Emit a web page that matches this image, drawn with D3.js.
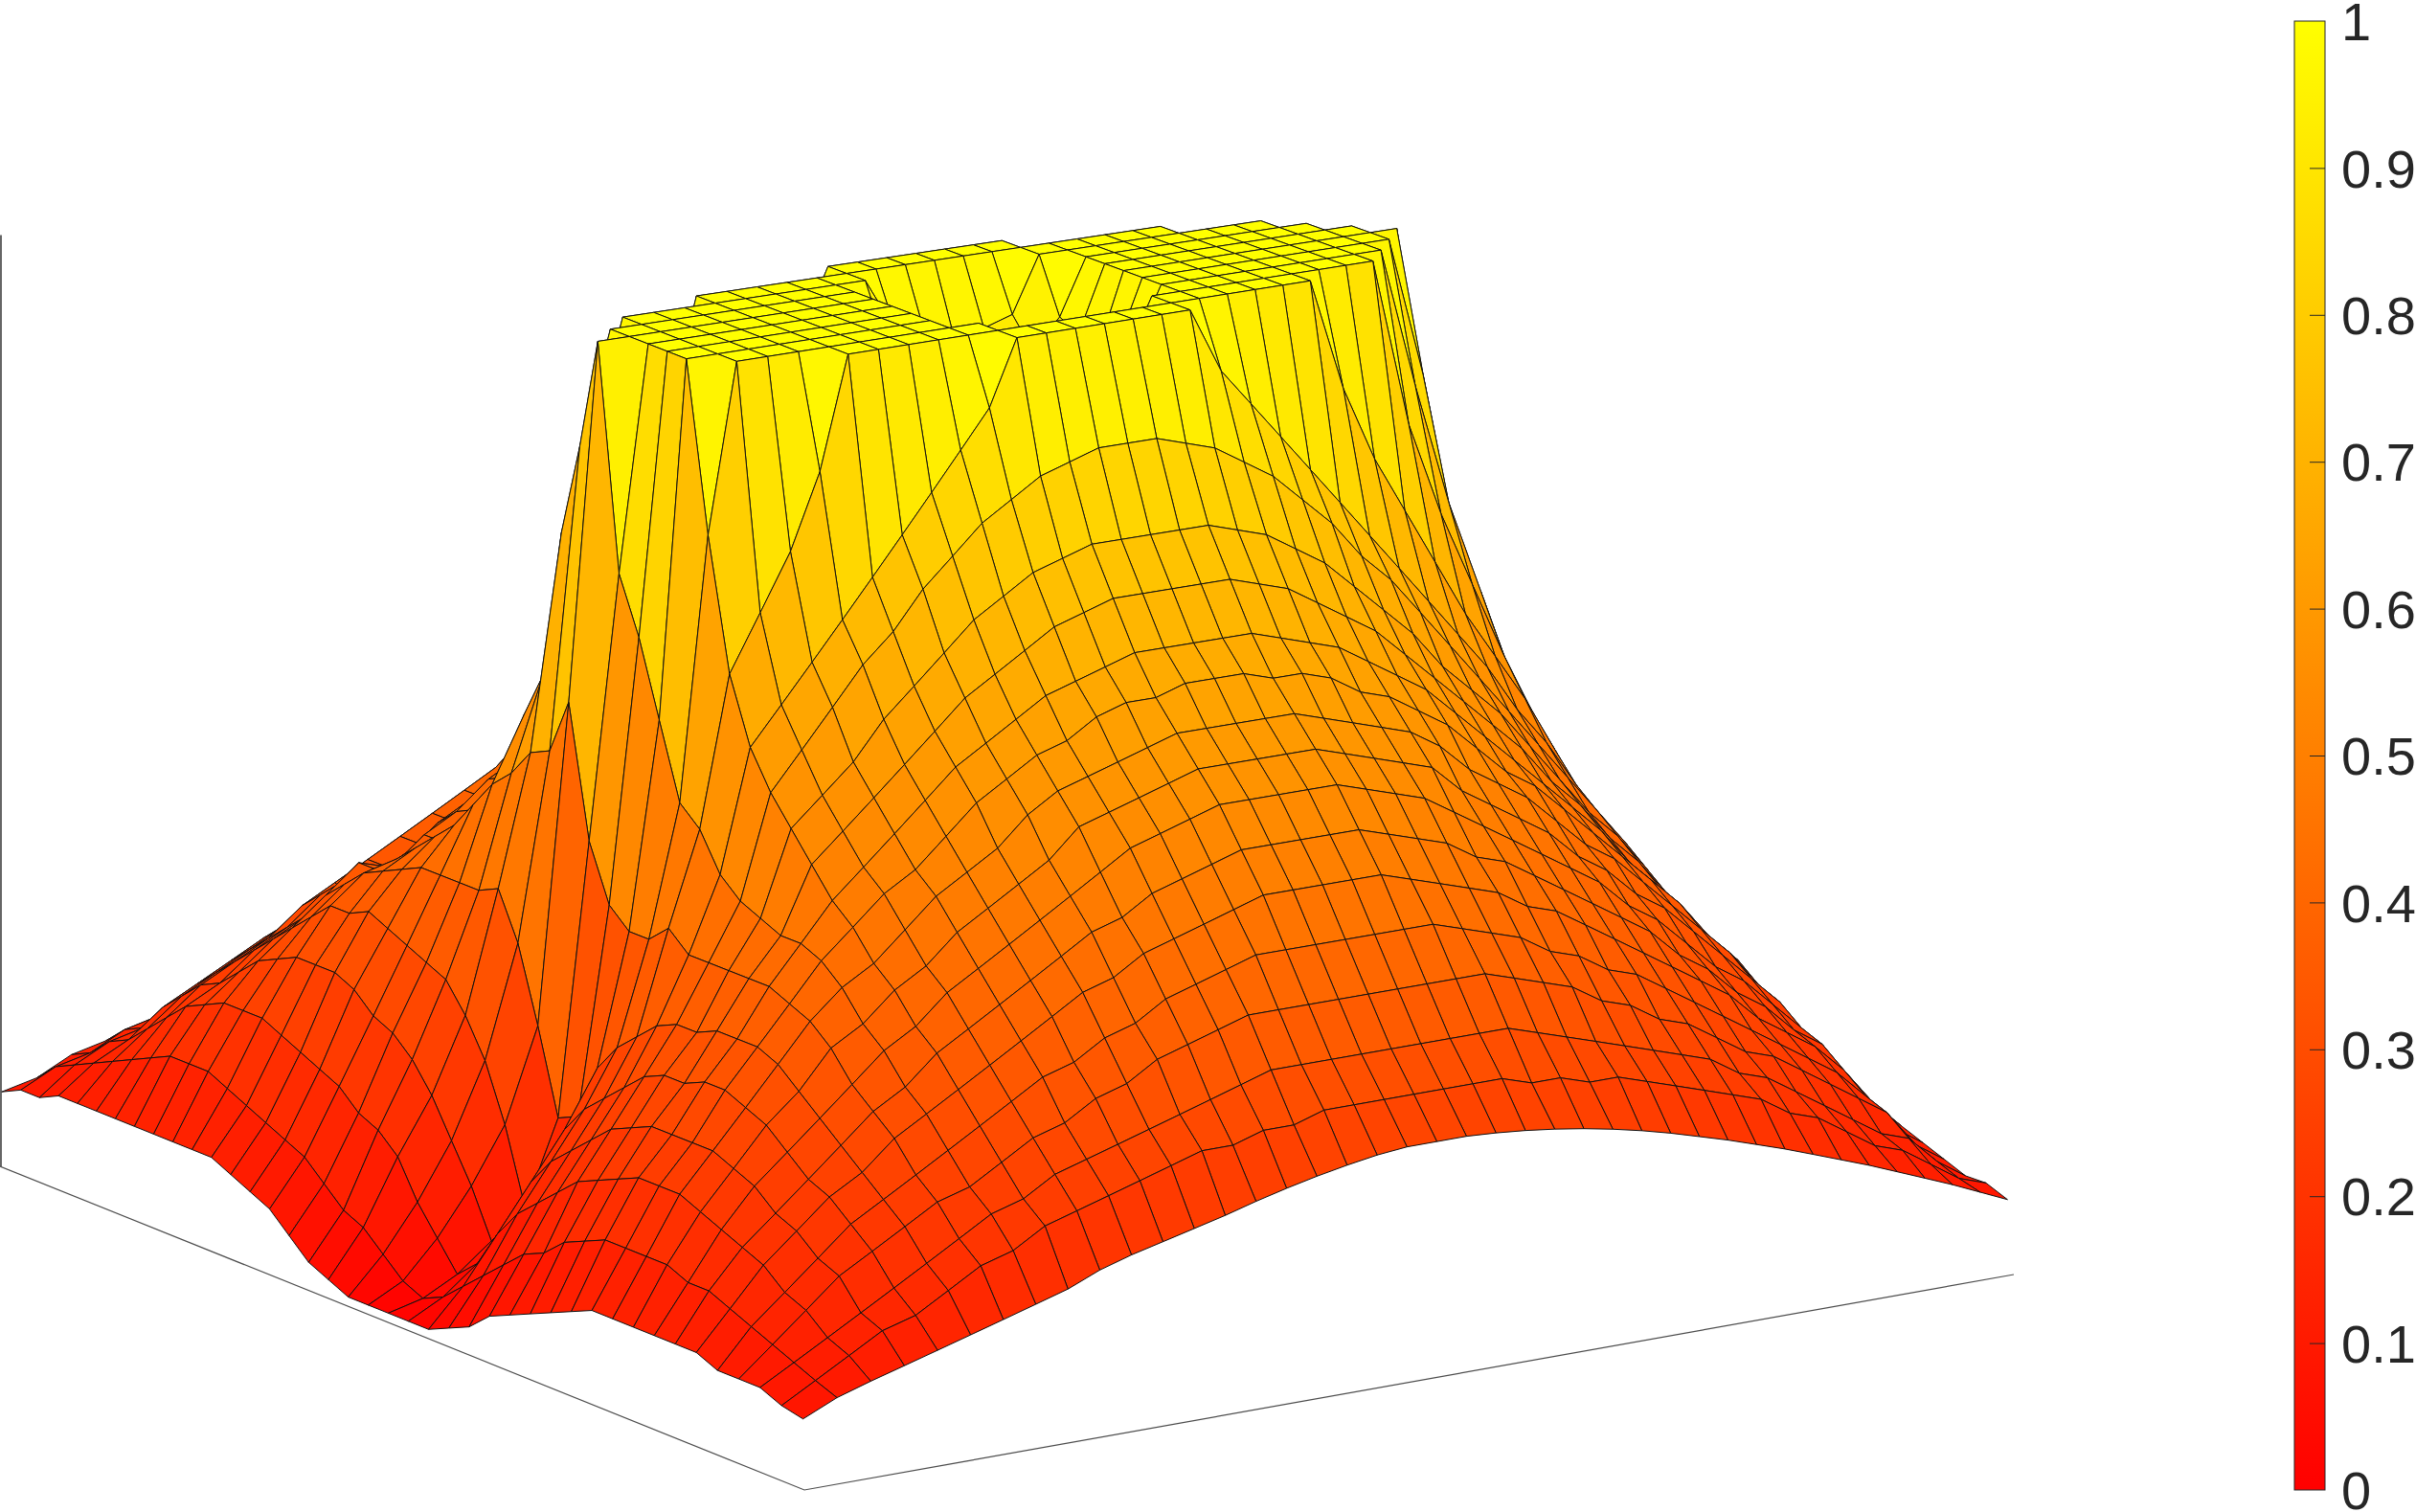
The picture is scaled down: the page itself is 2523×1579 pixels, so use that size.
<!DOCTYPE html>
<html><head><meta charset="utf-8">
<script src="https://cdn.jsdelivr.net/npm/d3@7/dist/d3.min.js"></script>
<style>html,body{margin:0;padding:0;background:#fff}svg{display:block}</style></head>
<body><div id="chart"></div>
<script>
// Surface height, in percent. Rows run along x from -1 to 1, columns along y from -1 to 1, in steps of 0.05.
const zRows = [
[8,9,11,12,13,14,15,16,17,18,19,20,21,22,23,24,24,24,25,25,25,25,25,24,24,24,23,22,21,20,19,18,17,16,15,14,13,12,11,9.3,8],
[9,11,12,14,15,17,19,20,22,23,24,25,26,27,27,28,28,29,29,29,29,29,29,29,28,28,27,27,26,25,24,23,22,20,19,17,15,14,12,10,9],
[9,12,14,15,17,19,21,23,24,26,27,28,29,30,31,32,33,33,33,33,33,33,33,33,33,32,31,30,29,28,27,26,24,23,21,19,17,15,14,11,9],
[10,13,15,18,20,22,24,25,27,29,30,32,33,35,36,37,38,38,38,38,38,38,38,38,38,37,36,35,33,32,30,29,27,25,24,22,20,18,16,12,10],
[10,14,17,20,22,24,26,28,30,32,34,35,37,38,40,41,42,43,43,43,43,43,43,43,42,41,40,38,37,35,34,32,30,28,26,24,22,20,17,13,11],
[10,15,19,22,24,26,29,31,33,35,37,39,41,42,44,45,46,47,48,48,48,48,48,47,46,45,44,42,41,39,37,35,33,31,29,26,24,22,19,15,12],
[10,16,21,23,26,28,31,30,33,35,37,39,44,46,47,49,50,51,52,52,52,52,52,51,50,49,47,46,44,42,40,38,36,33,31,28,26,23,21,16,13],
[10,17,22,25,28,30,33,33,35,38,40,42,47,49,51,53,54,55,56,56,56,56,56,55,54,53,51,49,47,45,43,41,38,36,33,30,28,25,22,17,14],
[10,17,23,27,30,33,36,35,38,40,43,45,50,52,55,56,57,58,59,59,59,59,59,58,57,56,55,52,50,48,46,43,41,38,36,33,30,27,24,18,15],
[10,17,23,28,32,35,36,36,38,41,44,46,53,56,58,59,60,61,62,62,62,62,62,61,60,59,58,56,53,51,49,46,43,41,38,35,32,29,25,19,15],
[10,16,23,29,34,37,38,38,41,44,46,49,57,59,61,62,64,65,65,66,66,66,65,65,64,62,61,59,57,54,51,49,46,43,40,37,34,30,27,20,16],
[10,15,22,29,34,38,40,40,43,46,49,52,60,62,64,66,67,68,69,69,69,69,69,68,67,66,64,62,60,57,54,51,48,45,42,38,35,31,27,21,17],
[9,14,21,29,35,39,42,42,46,49,52,55,63,66,68,70,72,73,74,74,74,74,74,73,72,70,68,66,63,60,57,54,51,47,44,40,37,33,29,22,18],
[8,13,20,28,34,40,44,45,49,52,55,59,67,70,73,75,77,78,79,79,79,79,79,78,77,75,73,70,67,64,60,57,54,50,46,42,39,35,30,23,18],
[7,12,19,26,33,40,47,50,54,58,62,67,72,76,79,82,84,86,87,88,88,88,87,86,84,82,79,76,72,69,65,61,57,53,49,45,41,37,32,24,19],
[5,10,17,25,32,40,50,57,61,65,69,73,77,81,85,89,93,100,100,100,100,100,100,100,93,89,85,81,77,73,69,65,61,57,52,48,43,38,33,25,20],
[3,8,16,23,31,40,52,62,68,74,80,88,100,100,100,100,100,100,100,100,100,100,100,100,100,100,100,100,100,88,80,74,68,62,57,52,46,40,34,26,21],
[2,7,14,20,28,41,55,78,88,100,100,100,100,100,100,100,100,100,94,93,92,93,94,100,100,100,100,100,100,100,100,100,82,72,64,56,49,42,36,27,22],
[1,5,10,16,24,36,56,88,100,100,100,100,100,100,100,100,100,94,91,90,90,90,91,94,100,100,100,100,100,100,100,100,100,85,72,62,52,44,37,28,24],
[1,3,7,12,18,28,62,100,100,100,100,100,100,100,100,100,100,93,90,88,88,88,90,93,100,100,100,100,100,100,100,100,100,100,85,64,53,45,38,29,25],
[1,2,4,7,10,19,48,76,100,100,100,100,100,100,100,100,100,92,89,88,88,88,89,92,100,100,100,100,100,100,100,100,100,100,100,67,54,45,39,29,25],
[1,3,6,10,14,20,42,70,100,100,100,100,100,100,100,100,100,93,90,88,88,88,90,93,100,100,100,100,100,100,100,100,100,100,85,64,53,45,38,29,25],
[1,5,10,15,20,26,40,62,100,100,100,100,100,100,100,100,100,94,91,90,90,90,91,94,100,100,100,100,100,100,100,100,100,85,72,62,52,44,37,28,24],
[2,7,13,18,23,29,40,54,82,100,100,100,100,100,100,100,100,100,94,93,92,93,94,100,100,100,100,100,100,100,100,100,82,72,64,56,49,42,36,27,22],
[3,9,15,20,25,31,42,52,68,74,80,88,100,100,100,100,100,100,100,100,100,100,100,100,100,100,100,100,100,88,80,74,68,62,57,52,46,40,34,26,21],
[5,11,17,22,27,33,40,48,61,65,69,73,77,81,85,89,93,100,100,100,100,100,100,100,93,89,85,81,77,73,69,65,61,57,52,48,43,38,33,25,20],
[6,12,19,24,29,34,40,46,57,61,65,69,72,76,79,82,84,86,87,88,88,88,87,86,84,82,79,76,72,69,65,61,57,53,49,45,41,37,32,24,19],
[7,14,20,25,30,34,40,45,54,57,60,64,67,70,73,75,77,78,79,79,79,79,79,78,77,75,73,70,67,64,60,57,54,50,46,42,39,35,30,23,18],
[8,15,21,26,30,35,40,44,51,54,57,60,63,66,68,70,72,73,74,74,74,74,74,73,72,70,68,66,63,60,57,54,51,47,44,40,37,33,29,22,18],
[9,16,22,26,31,35,40,44,48,51,54,57,60,62,64,66,67,68,69,69,69,69,69,68,67,66,64,62,60,57,54,51,48,45,42,38,35,31,27,21,17],
[10,16,22,26,31,35,39,43,46,49,51,54,57,59,61,62,64,65,65,66,66,66,65,65,64,62,61,59,57,54,51,49,46,43,40,37,34,30,27,20,16],
[10,16,22,26,30,34,38,41,43,46,49,51,53,56,58,59,60,61,62,62,62,62,62,61,60,59,58,56,53,51,49,46,43,41,38,35,32,29,25,19,15],
[10,16,21,25,29,32,36,38,41,43,46,48,50,52,55,56,57,58,59,59,59,59,59,58,57,56,55,52,50,48,46,43,41,38,36,33,30,27,24,18,15],
[10,15,20,24,27,30,33,36,38,41,43,45,47,49,51,53,54,55,56,56,56,56,56,55,54,53,51,49,47,45,43,41,38,36,33,30,28,25,22,17,14],
[10,15,19,22,25,28,31,33,36,38,40,42,44,46,47,49,50,51,52,52,52,52,52,51,50,49,47,46,44,42,40,38,36,33,31,28,26,23,21,16,13],
[10,14,18,21,24,26,29,31,33,35,37,39,41,42,44,45,46,47,48,48,48,48,48,47,46,45,44,42,41,39,37,35,33,31,29,26,24,22,19,15,12],
[9,13,16,19,22,24,26,28,30,32,34,35,37,38,40,41,42,43,43,43,43,43,43,43,42,41,40,38,37,35,34,32,30,28,26,24,22,20,17,13,11],
[9,12,15,18,20,22,24,25,27,29,30,32,33,35,36,37,38,38,38,38,38,38,38,38,38,37,36,35,33,32,30,29,27,25,24,22,20,18,16,12,10],
[9,11,13,15,17,19,21,23,24,26,27,28,29,30,31,32,33,33,33,33,33,33,33,33,33,32,31,30,29,28,27,26,24,23,21,19,17,15,14,11,9],
[8,10,12,14,15,17,19,20,22,23,24,25,26,27,27,28,28,29,29,29,29,29,29,29,28,28,27,27,26,25,24,23,22,20,19,17,15,14,12,10,9],
[7.5,9.1,10.2,11.2,12.2,13.2,14.2,15.2,16.2,17.6,18.6,19.4,20.2,21,21.9,22.7,23.4,24,24.5,24.8,24.8,24.8,24.6,24.3,23.9,23.4,22.8,22.1,21.3,20.4,19.5,18.5,17.5,16.4,15.3,14.2,13,11.8,10.6,9.3,8]
];
const colorbarTicks = [0, 0.1, 0.2, 0.3, 0.4, 0.5, 0.6, 0.7, 0.8, 0.9, 1];
const colormapEnds = ["#ff0000", "#ffff00"];

const W = 2523, H = 1579;
// Camera: where the floor corners land on the page, and where the centre of the z = 1 plane lands.
const floorL = [0, 1218], floorF = [840, 1556], floorR = [2103, 1331], floorB = [1287, 1046];
const topCentre = [1054, 301], topScale = 0.95;

const nx = zRows.length, ny = zRows[0].length;
const sx = d3.scaleLinear().domain([0, nx - 1]).range([0, 1]);   // grid index → floor coordinate u
const sy = d3.scaleLinear().domain([0, ny - 1]).range([0, 1]);   // grid index → floor coordinate v
const sz = d3.scaleLinear().domain([0, 100]).range([0, 1]);
const color = d3.scaleLinear().domain([0, 1]).range(colormapEnds);

// Square-to-quad homography for the floor plane
const sumX = floorL[0] - floorF[0] + floorR[0] - floorB[0], sumY = floorL[1] - floorF[1] + floorR[1] - floorB[1];
const d1x = floorF[0] - floorR[0], d2x = floorB[0] - floorR[0], d1y = floorF[1] - floorR[1], d2y = floorB[1] - floorR[1];
const det = d1x * d2y - d2x * d1y;
const g = (sumX * d2y - d2x * sumY) / det, h = (d1x * sumY - sumX * d1y) / det;
const a = floorF[0] - floorL[0] + g * floorF[0], b = floorB[0] - floorL[0] + h * floorB[0];
const d = floorF[1] - floorL[1] + g * floorF[1], e = floorB[1] - floorL[1] + h * floorB[1];
function floor(u, v) {
  const w = g * u + h * v + 1;
  return [(a * u + b * v + floorL[0]) / w, (d * u + e * v + floorL[1]) / w];
}
const floorCentre = floor(0.5, 0.5);
function project(u, v, z) {
  const p = floor(u, v);
  return [
    p[0] + z * ((topScale - 1) * (p[0] - floorCentre[0]) + topCentre[0] - floorCentre[0]),
    p[1] + z * ((topScale - 1) * (p[1] - floorCentre[1]) + topCentre[1] - floorCentre[1])
  ];
}
const vertex = (i, j) => project(sx(i), sy(j), sz(zRows[i][j]));

const svg = d3.select("#chart").append("svg").attr("width", W).attr("height", H).attr("viewBox", [0, 0, W, H]);

// Box lines
const axisColor = "#4d4d4d";
const line = d3.line();
svg.append("path").attr("d", line([project(0, 0, 0), project(1, 0, 0), project(1, 1, 0)]))
  .attr("fill", "none").attr("stroke", axisColor).attr("stroke-width", 1.2);
svg.append("line").attr("x1", 1).attr("x2", 1).attr("y1", floorL[1]).attr("y2", project(0, 0, 1)[1])
  .attr("stroke", "#333").attr("stroke-width", 1.5);

// Surface faces, painted far to near; each face takes the mean height of its corners
const faces = [];
for (let i = 0; i < nx - 1; i++) for (let j = ny - 2; j >= 0; j--) faces.push({i, j});
svg.append("g").selectAll("path").data(faces).join("path")
  .attr("d", f => line([vertex(f.i, f.j), vertex(f.i + 1, f.j), vertex(f.i + 1, f.j + 1), vertex(f.i, f.j + 1)]) + "Z")
  .attr("fill", f => color(sz(d3.mean([zRows[f.i][f.j], zRows[f.i + 1][f.j], zRows[f.i + 1][f.j + 1], zRows[f.i][f.j + 1]]))))
  .attr("stroke", "#111").attr("stroke-width", 1).attr("stroke-linejoin", "round");

// Colour bar
const barX = 2396, barW = 32, barTop = 22, barBottom = 1556;
const cbScale = d3.scaleLinear().domain([0, 1]).range([barBottom, barTop]);
const grad = svg.append("defs").append("linearGradient").attr("id", "cb").attr("x1", 0).attr("x2", 0).attr("y1", 1).attr("y2", 0);
grad.append("stop").attr("offset", 0).attr("stop-color", colormapEnds[0]);
grad.append("stop").attr("offset", 1).attr("stop-color", colormapEnds[1]);
svg.append("rect").attr("x", barX).attr("y", barTop).attr("width", barW).attr("height", barBottom - barTop)
  .attr("fill", "url(#cb)").attr("stroke", "#262626").attr("stroke-width", 1);
const cbAxis = d3.axisRight(cbScale).tickValues(colorbarTicks).tickFormat(d3.format("")).tickSize(0).tickPadding(17);
const cbG = svg.append("g").attr("transform", `translate(${barX + barW},0)`).call(cbAxis);
cbG.select(".domain").remove();
cbG.selectAll(".tick line").filter(d => d > 0 && d < 1).attr("x2", -16).attr("stroke", "#262626").attr("stroke-width", 1);
cbG.selectAll("text").attr("font-family", "'Liberation Sans',Arial,sans-serif").attr("font-size", 56).attr("fill", "#262626").attr("dy", "0.35em");
</script></body></html>
